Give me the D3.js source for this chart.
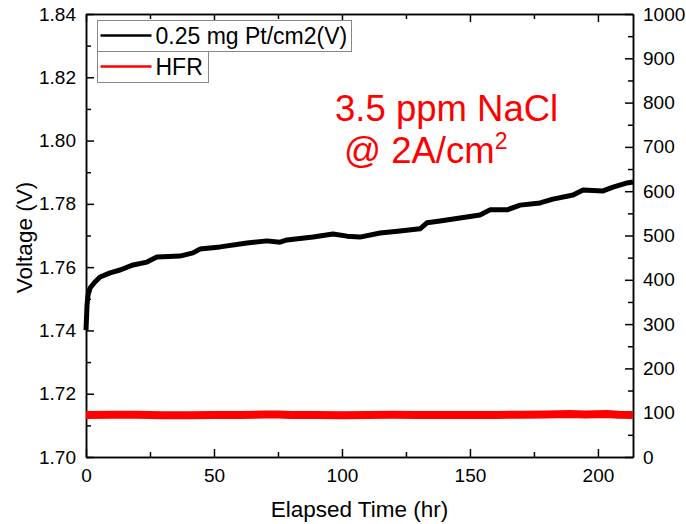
<!DOCTYPE html>
<html>
<head>
<meta charset="utf-8">
<script src="https://cdn.jsdelivr.net/npm/d3@7"></script>
<style>
  body { margin: 0; background: #fff; }
  svg text { font-family: "Liberation Sans", Arial, sans-serif; fill: #000; }
</style>
</head>
<body>
<svg id="chart" width="686" height="524"></svg>
<script>
// voltage curve : elapsed time (hr) / voltage (V)
const voltTime = [0, 0.4, 0.8, 1.6, 3.5, 5.5, 9.4, 13.3, 18.4, 23.8, 27.7, 36.7, 41.8, 44.5, 52.4,
  62.9, 70.7, 75.8, 78.5, 88.7, 96.5, 102.0, 107.0, 114.9, 122.7, 130.5, 133.2, 138.3, 146.1,
  153.9, 157.8, 164.5, 169.6, 177.4, 182.4, 190.3, 194.2, 202.0, 205.9, 211.4, 213.7];
const voltage = [1.7401, 1.7480, 1.7512, 1.7534, 1.7553, 1.7569, 1.7582, 1.7591, 1.7607, 1.7616, 1.7632,
  1.7635, 1.7645, 1.7657, 1.7664, 1.7676, 1.7683, 1.7679, 1.7686, 1.7695, 1.7705, 1.7698, 1.7695,
  1.7708, 1.7714, 1.7721, 1.7740, 1.7746, 1.7755, 1.7765, 1.7781, 1.7781, 1.7796, 1.7803, 1.7815,
  1.7828, 1.7844, 1.7841, 1.7853, 1.7866, 1.7869];

// HFR curve (right axis)
const hfrTime = [0, 10, 20, 30, 40, 50, 60, 70, 75, 80, 90, 100, 110, 120, 130, 140, 150, 160, 170,
  180, 189, 195, 203.5, 208, 213.7];
const hfr = [95, 95.5, 95.5, 94.5, 94.5, 95, 95, 96, 96, 95, 95, 94.5, 95, 95.5, 95, 95, 95, 95, 95.5,
  96, 97, 96, 97, 95.5, 95];

// tick labels
const xTicks = [0, 50, 100, 150, 200];
const xMinor = [25, 75, 125, 175];
const yLeftTicks = [1.70, 1.72, 1.74, 1.76, 1.78, 1.80, 1.82, 1.84];
const yLeftMinor = [1.71, 1.73, 1.75, 1.77, 1.79, 1.81, 1.83];
const yRightTicks = [0, 100, 200, 300, 400, 500, 600, 700, 800, 900, 1000];
const yRightMinor = [50, 150, 250, 350, 450, 550, 650, 750, 850, 950];

const svg = d3.select("#chart"),
      margin = {top: 14, right: 53, bottom: 67, left: 86},
      width = +svg.attr("width") - margin.left - margin.right,
      height = +svg.attr("height") - margin.top - margin.bottom,
      g = svg.append("g").attr("transform", "translate(" + margin.left + "," + margin.top + ")");

const x = d3.scaleLinear().domain([0, 213.7]).range([0, width]);
const yL = d3.scaleLinear().domain([1.70, 1.84]).range([height, 0]);
const yR = d3.scaleLinear().domain([0, 1000]).range([height, 0]);

const fmt2 = d3.format(".2f");
const fmtInt = d3.format("d");
const tickFont = 19;

// 繪出 軸 (ticks pointing inward)
function styleAxis(sel) {
  sel.selectAll("path, line").attr("stroke", "#000").attr("stroke-width", 1.5);
  sel.selectAll("text").style("font-size", tickFont + "px");
  return sel;
}

// bottom
g.append("g").attr("transform", "translate(0," + height + ")")
  .call(d3.axisBottom(x).tickValues(xTicks).tickFormat(fmtInt).tickSize(-8).tickSizeOuter(0).tickPadding(12))
  .call(styleAxis);
g.append("g").attr("transform", "translate(0," + height + ")")
  .call(d3.axisBottom(x).tickValues(xMinor).tickSize(-5).tickSizeOuter(0).tickFormat(""))
  .call(styleAxis);

// top
g.append("g")
  .call(d3.axisTop(x).tickValues(xTicks).tickSize(-8).tickSizeOuter(0).tickFormat(""))
  .call(styleAxis);
g.append("g")
  .call(d3.axisTop(x).tickValues(xMinor).tickSize(-5).tickSizeOuter(0).tickFormat(""))
  .call(styleAxis);

// left
g.append("g")
  .call(d3.axisLeft(yL).tickValues(yLeftTicks).tickFormat(fmt2).tickSize(-8).tickSizeOuter(0).tickPadding(10))
  .call(styleAxis);
g.append("g")
  .call(d3.axisLeft(yL).tickValues(yLeftMinor).tickSize(-5).tickSizeOuter(0).tickFormat(""))
  .call(styleAxis);

// right
g.append("g").attr("transform", "translate(" + width + ",0)")
  .call(d3.axisRight(yR).tickValues(yRightTicks).tickFormat(fmtInt).tickSize(-8).tickSizeOuter(0).tickPadding(10))
  .call(styleAxis);
g.append("g").attr("transform", "translate(" + width + ",0)")
  .call(d3.axisRight(yR).tickValues(yRightMinor).tickSize(-5).tickSizeOuter(0).tickFormat(""))
  .call(styleAxis);

// 繪出 HFR 線
const hfrLine = d3.line()
  .x(function(d, i) { return x(hfrTime[i]); })
  .y(function(d) { return yR(d); });
g.append("path")
  .datum(hfr)
  .attr("fill", "none")
  .attr("stroke", "#ff0000")
  .attr("stroke-width", 8)
  .attr("stroke-linejoin", "round")
  .attr("d", hfrLine);

// 繪出 電壓線
const voltLine = d3.line()
  .x(function(d, i) { return x(voltTime[i]); })
  .y(function(d) { return yL(d); });
g.append("path")
  .datum(voltage)
  .attr("fill", "none")
  .attr("stroke", "#000")
  .attr("stroke-width", 5)
  .attr("stroke-linejoin", "round")
  .attr("d", voltLine);

// axis titles
svg.append("text")
  .attr("x", margin.left + width / 2)
  .attr("y", 517)
  .attr("text-anchor", "middle")
  .style("font-size", "22.5px")
  .text("Elapsed Time (hr)");

svg.append("text")
  .attr("transform", "translate(32," + (margin.top + height / 2 + 2) + ") rotate(-90)")
  .attr("text-anchor", "middle")
  .style("font-size", "22.5px")
  .text("Voltage (V)");

// legend
const legendItems = [
  {label: "0.25 mg Pt/cm2(V)", color: "#000", w: 254},
  {label: "HFR", color: "#ff0000", w: 111}
];
const lg = svg.append("g").attr("transform", "translate(97.5,20.5)");
legendItems.forEach(function(item, i) {
  const row = lg.append("g").attr("transform", "translate(0," + (i * 31) + ")");
  row.append("rect")
    .attr("width", item.w).attr("height", 31)
    .attr("fill", "#fff").attr("stroke", "#888").attr("stroke-width", 1);
  row.append("line")
    .attr("x1", 3).attr("x2", 54).attr("y1", 15).attr("y2", 15)
    .attr("stroke", item.color).attr("stroke-width", 2.5);
  row.append("text")
    .attr("x", 58).attr("y", 23.5)
    .style("font-size", "23px")
    .text(item.label);
});

// annotation
svg.append("text")
  .attr("x", 335).attr("y", 121)
  .style("font-size", "36.5px").style("fill", "#ff0000")
  .text("3.5 ppm NaCl");
const ann2 = svg.append("text")
  .attr("x", 344).attr("y", 163)
  .style("font-size", "36.5px").style("fill", "#ff0000");
ann2.append("tspan").text("@ 2A/cm");
ann2.append("tspan").attr("dy", -14).style("font-size", "23px").text("2");
</script>
</body>
</html>
